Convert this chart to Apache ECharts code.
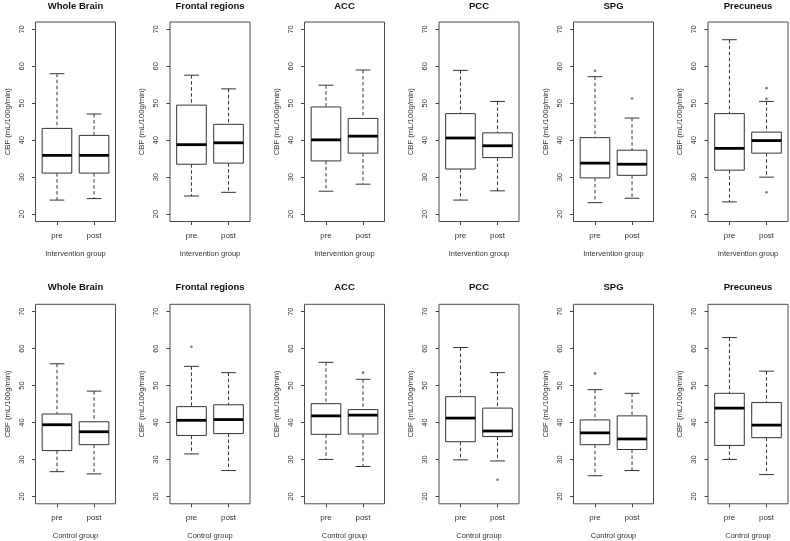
<!DOCTYPE html>
<html>
<head>
<meta charset="utf-8">
<script src="https://cdn.jsdelivr.net/npm/echarts@6/dist/echarts.min.js"></script>
<style>
html,body{margin:0;padding:0;background:#fff;}
#chart{width:790px;height:541px;}
</style>
</head>
<body>
<div id="chart"></div>
<script>
// ---- Data ----
const regions = ['Whole Brain', 'Frontal regions', 'ACC', 'PCC', 'SPG', 'Precuneus'];
const groups = ['Intervention group', 'Control group'];
const timepoints = ['pre', 'post'];
const yTicks = [20, 30, 40, 50, 60, 70];
const yAxisTitle = 'CBF (mL/100g/min)';

// [lower whisker, Q1, median, Q3, upper whisker] per region
const interventionPre = [
  [23.8, 31.1, 35.9, 43.2, 58.0],
  [24.9, 33.5, 38.8, 49.5, 57.6],
  [26.2, 34.4, 40.1, 49.0, 54.9],
  [23.8, 32.2, 40.6, 47.2, 58.9],
  [23.1, 29.8, 33.8, 40.7, 57.2],
  [23.3, 31.9, 37.8, 47.2, 67.2]
];
const interventionPost = [
  [24.2, 31.1, 35.9, 41.3, 47.1],
  [25.9, 33.8, 39.3, 44.3, 53.9],
  [28.1, 36.5, 41.1, 45.9, 59.0],
  [26.3, 35.3, 38.5, 42.0, 50.5],
  [24.3, 30.5, 33.5, 37.3, 46.0],
  [30.0, 36.5, 39.9, 42.2, 50.5]
];
const controlPre = [
  [26.7, 32.4, 39.4, 42.3, 55.9],
  [31.5, 36.5, 40.6, 44.3, 55.2],
  [30.0, 36.8, 41.8, 45.1, 56.3],
  [29.9, 34.8, 41.2, 47.0, 60.3],
  [25.6, 34.0, 37.2, 40.7, 48.9],
  [30.0, 33.8, 43.9, 47.9, 63.0]
];
const controlPost = [
  [26.1, 34.0, 37.5, 40.2, 48.5],
  [27.0, 37.0, 40.8, 44.8, 53.5],
  [28.1, 36.9, 42.0, 43.5, 51.7],
  [29.6, 36.2, 37.7, 43.9, 53.5],
  [27.0, 32.7, 35.55, 41.8, 47.9],
  [25.9, 35.9, 39.3, 45.4, 53.9]
];
// outliers: [region index, timepoint index (0 pre, 1 post), value]
const interventionOutliers = [
  [4, 0, 58.8], [4, 1, 51.3],
  [5, 1, 54.1], [5, 1, 51.2], [5, 1, 25.9]
];
const controlOutliers = [
  [1, 0, 60.5], [2, 1, 53.5], [3, 1, 24.5], [4, 0, 53.3]
];

// ---- Layout ----
const panelLeft0 = 35.5, panelStep = 134.5, panelWidth = 80;
const rowTops = [22, 304.3], rowHeight = 199.5;
const titleTops = [1.5, 282];
const FONT = '"Liberation Sans", Arial, Helvetica, sans-serif';

const statsPre = [interventionPre, controlPre];
const statsPost = [interventionPost, controlPost];
const outlierSets = [interventionOutliers, controlOutliers];

function renderBox(params, api) {
  const x = api.value(0);
  const lo = api.coord([x, api.value(1)]);
  const q1 = api.coord([x, api.value(2)]);
  const med = api.coord([x, api.value(3)]);
  const q3 = api.coord([x, api.value(4)]);
  const hi = api.coord([x, api.value(5)]);
  const half = api.size([0.4, 0])[0];
  const cap = api.size([0.2, 0])[0];
  const cx = lo[0];
  const lineCol = '#333';
  const dashStyle = { stroke: lineCol, lineWidth: 1, lineDash: [3.5, 2.5] };
  const solid = { stroke: lineCol, lineWidth: 1 };
  return {
    type: 'group',
    children: [
      { type: 'line', shape: { x1: cx, y1: hi[1], x2: cx, y2: q3[1] }, style: dashStyle },
      { type: 'line', shape: { x1: cx, y1: q1[1], x2: cx, y2: lo[1] }, style: dashStyle },
      { type: 'line', shape: { x1: cx - cap, y1: hi[1], x2: cx + cap, y2: hi[1] }, style: solid },
      { type: 'line', shape: { x1: cx - cap, y1: lo[1], x2: cx + cap, y2: lo[1] }, style: solid },
      { type: 'rect', shape: { x: cx - half, y: q3[1], width: 2 * half, height: q1[1] - q3[1] },
        style: { fill: '#fff', stroke: lineCol, lineWidth: 1 } },
      { type: 'line', shape: { x1: cx - half, y1: med[1], x2: cx + half, y2: med[1] },
        style: { stroke: '#000', lineWidth: 2.8 } }
    ]
  };
}

const grids = [], xAxes = [], yAxes = [], series = [], titles = [];
for (let g = 0; g < 2; g++) {
  for (let r = 0; r < regions.length; r++) {
    const k = g * regions.length + r;
    const left = panelLeft0 + r * panelStep;
    grids.push({
      left: left, top: rowTops[g], width: panelWidth, height: rowHeight,
      show: true, borderColor: '#4a4a4a', borderWidth: 1, backgroundColor: 'transparent'
    });
    titles.push({
      text: regions[r], left: left + panelWidth / 2, top: titleTops[g], textAlign: 'center', padding: 0,
      textStyle: { fontFamily: FONT, fontSize: 9.5, fontWeight: 'bold', color: '#111' }
    });
    xAxes.push({
      gridIndex: k, type: 'value', min: 0.42, max: 2.58,
      axisLine: { show: false }, splitLine: { show: false },
      axisTick: { show: true, customValues: [1, 2], length: 3.5, lineStyle: { color: '#444', width: 1 } },
      axisLabel: { customValues: [1, 2], formatter: v => timepoints[Math.round(v) - 1],
        fontFamily: FONT, fontSize: 8, color: '#333', margin: 10 },
      name: groups[g], nameLocation: 'middle', nameGap: 28,
      nameTextStyle: { fontFamily: FONT, fontSize: 7.5, color: '#333' }
    });
    yAxes.push({
      gridIndex: k, type: 'value', min: 18, max: 72,
      axisLine: { show: false }, splitLine: { show: false },
      axisTick: { show: true, customValues: yTicks, length: 3.5, lineStyle: { color: '#444', width: 1 } },
      axisLabel: { customValues: yTicks, rotate: 90, fontFamily: FONT, fontSize: 7.5, color: '#333', margin: 10 },
      name: yAxisTitle, nameLocation: 'middle', nameGap: 24, nameRotate: 90,
      nameTextStyle: { fontFamily: FONT, fontSize: 7.7, color: '#333' }
    });
    const boxData = [
      [1].concat(statsPre[g][r]),
      [2].concat(statsPost[g][r])
    ];
    series.push({
      type: 'custom', xAxisIndex: k, yAxisIndex: k, renderItem: renderBox,
      data: boxData, silent: true, clip: false
    });
    const outs = outlierSets[g].filter(o => o[0] === r).map(o => [o[1] + 1, o[2]]);
    if (outs.length) {
      series.push({
        type: 'scatter', xAxisIndex: k, yAxisIndex: k, data: outs,
        symbol: 'circle', symbolSize: 2.6, silent: true,
        itemStyle: { color: '#555' }
      });
    }
  }
}

const chart = echarts.init(document.getElementById('chart'), null, { renderer: 'canvas' });
chart.setOption({
  animation: false,
  backgroundColor: '#fff',
  title: titles,
  grid: grids,
  xAxis: xAxes,
  yAxis: yAxes,
  series: series
});
</script>
</body>
</html>
